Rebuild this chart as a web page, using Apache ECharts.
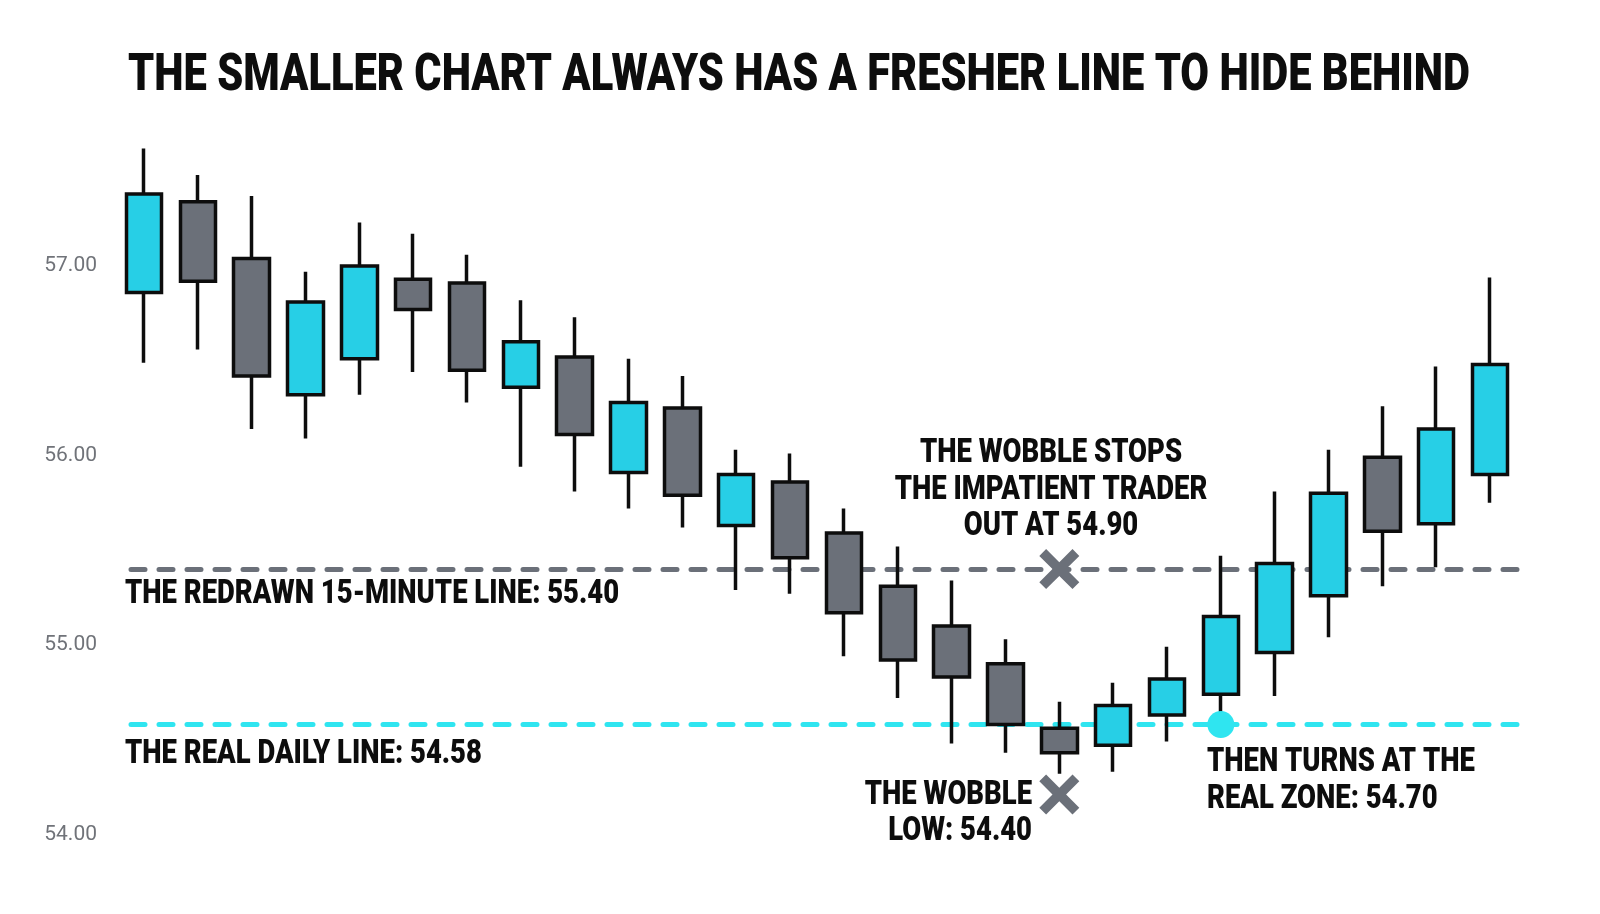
<!DOCTYPE html>
<html>
<head>
<meta charset="utf-8">
<script src="https://cdn.jsdelivr.net/npm/echarts@6/dist/echarts.min.js"></script>
<style>
html,body{margin:0;padding:0;background:#ffffff;}
#chart{width:1600px;height:914px;}
</style>
</head>
<body>
<div id="chart"></div>
<script>
// ---- data ----
const titleText = 'THE SMALLER CHART ALWAYS HAS A FRESHER LINE TO HIDE BEHIND';
const categories = ['1','2','3','4','5','6','7','8','9','10','11','12','13','14','15','16','17','18','19','20','21','22','23','24','25','26'];
const openValues  = [56.86,57.34,57.04,56.32,56.51,56.93,56.91,56.36,56.52,55.91,56.25,55.63,55.86,55.59,55.31,55.10,54.90,54.56,54.47,54.63,54.74,54.96,55.26,55.99,55.64,55.90];
const closeValues = [57.38,56.92,56.42,56.81,57.00,56.77,56.45,56.60,56.11,56.28,55.79,55.90,55.46,55.17,54.92,54.83,54.58,54.43,54.68,54.82,55.15,55.43,55.80,55.60,56.14,56.48];
const lowValues   = [56.49,56.56,56.14,56.09,56.32,56.44,56.28,55.94,55.81,55.72,55.62,55.29,55.27,54.94,54.72,54.48,54.43,54.32,54.33,54.49,54.59,54.73,55.04,55.31,55.41,55.75];
const highValues  = [57.62,57.48,57.37,56.97,57.23,57.17,57.06,56.82,56.73,56.51,56.42,56.03,56.01,55.72,55.52,55.34,55.03,54.70,54.80,54.99,55.47,55.81,56.03,56.26,56.47,56.94];
const yTicks = [54, 55, 56, 57];
const redrawnLine = 55.40;
const dailyLine = 54.58;
const crossMarks = [['18', 55.40], ['18', 54.21]];
const turnDot = [['21', 54.58]];
const labelRedrawn = 'THE REDRAWN 15-MINUTE LINE: 55.40';
const labelDaily = 'THE REAL DAILY LINE: 54.58';
const noteStops = ['THE WOBBLE STOPS', 'THE IMPATIENT TRADER', 'OUT AT 54.90'];
const noteLow = ['THE WOBBLE', 'LOW: 54.40'];
const noteTurn = ['THEN TURNS AT THE', 'REAL ZONE: 54.70'];

// ---- styles ----
const CYAN = '#27cfe6';
const CYAN_LINE = '#2fe5f0';
const GRAY = '#6b7079';
const INK = '#0d0d0d';
const FONT = "Roboto, 'Noto Sans', sans-serif";
const TITLE_FONT = '900 52px ' + FONT;
const NOTE_FONT = '900 34px ' + FONT;

// condensed look: measure the heavy face and squeeze it horizontally
const measureCtx = document.createElement('canvas').getContext('2d');
function textWidth(t, font) { measureCtx.font = font; return measureCtx.measureText(t).width; }
const titleScale = 1342 / textWidth(titleText, TITLE_FONT);
const noteScale = (481 + 320 + 173) /
  (textWidth(labelRedrawn, NOTE_FONT) + textWidth(noteStops[1], NOTE_FONT) + textWidth(noteLow[0], NOTE_FONT));

const candleData = categories.map((c, i) => [openValues[i], closeValues[i], lowValues[i], highValues[i]]);
const crossPath = 'path://M1.7,0 L5,3.3 L8.3,0 L10,1.7 L6.7,5 L10,8.3 L8.3,10 L5,6.7 L1.7,10 L0,8.3 L3.3,5 L0,1.7 Z';

function noteText(lines, x, y, align) {
  return {
    type: 'text', x: x, y: y, z: 20, scaleX: noteScale, scaleY: 1,
    style: {
      text: lines.join('\n'), fill: INK, font: NOTE_FONT,
      textAlign: align, textVerticalAlign: 'middle', lineHeight: 36.5
    }
  };
}

const chart = echarts.init(document.getElementById('chart'));
chart.setOption({
  backgroundColor: '#ffffff',
  animation: false,
  grid: { left: 117, right: 83, top: 114.5, bottom: 79.7 },
  xAxis: {
    type: 'category', data: categories, boundaryGap: true,
    axisLine: { show: false }, axisTick: { show: false }, axisLabel: { show: false }, splitLine: { show: false }
  },
  yAxis: {
    type: 'value', min: 54, max: 57.8, interval: 1,
    axisLine: { show: false }, axisTick: { show: false }, splitLine: { show: false },
    axisLabel: {
      margin: 20, color: '#707379', fontFamily: 'Roboto', fontSize: 21,
      formatter: function (v) {
        return yTicks.some(t => Math.abs(t - v) < 1e-6) ? v.toFixed(2) : '';
      }
    }
  },
  series: [
    {
      type: 'candlestick', data: candleData, barWidth: 36, z: 3,
      itemStyle: { color: CYAN, color0: GRAY, borderColor: INK, borderColor0: INK, borderWidth: 3.5 },
      markLine: {
        silent: true, symbol: 'none', z: 1, animation: false,
        label: { show: false },
        lineStyle: { width: 5, type: [14, 14], dashOffset: 14, cap: 'round', opacity: 1 },
        data: [
          { yAxis: redrawnLine, lineStyle: { color: GRAY } },
          { yAxis: dailyLine, lineStyle: { color: CYAN_LINE } }
        ]
      }
    },
    {
      type: 'scatter', data: crossMarks, symbol: crossPath, symbolSize: 40, z: 10,
      itemStyle: { color: GRAY, opacity: 1 }, silent: true
    },
    {
      type: 'scatter', data: turnDot, symbol: 'circle', symbolSize: 27, z: 10,
      itemStyle: { color: CYAN_LINE, opacity: 1 }, silent: true
    }
  ],
  graphic: [
    {
      type: 'text', x: 799, y: 77, z: 20, scaleX: titleScale, scaleY: 1,
      style: { text: titleText, fill: INK, font: TITLE_FONT, textAlign: 'center', textVerticalAlign: 'middle' }
    },
    noteText([labelRedrawn], 125, 594, 'left'),
    noteText([labelDaily], 125, 754, 'left'),
    noteText(noteStops, 1051, 490, 'center'),
    noteText(noteLow, 1032, 813.5, 'right'),
    noteText(noteTurn, 1207, 781, 'left')
  ]
});
</script>
</body>
</html>
